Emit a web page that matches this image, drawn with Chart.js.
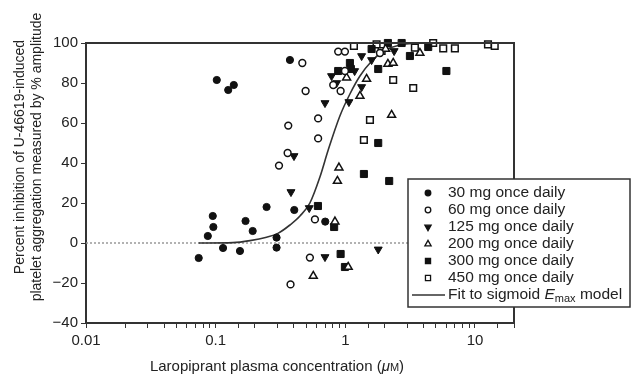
<!DOCTYPE html>
<html>
<head>
<meta charset="utf-8">
<script src="https://cdn.jsdelivr.net/npm/chart.js@4.4.1/dist/chart.umd.min.js"></script>
<style>
  html, body { margin: 0; padding: 0; background: #fff; }
</style>
</head>
<body>
<canvas id="inhibitionChart" width="631" height="375"></canvas>
<script>
// concentration (uM), % inhibition
const mg30 = [[0.074, -7.5], [0.087, 3.5], [0.095, 13.5], [0.096, 8], [0.102, 81.5], [0.114, -2.5],
  [0.125, 76.5], [0.138, 79], [0.154, -4], [0.17, 11], [0.193, 6], [0.247, 18], [0.295, 2.7],
  [0.295, -2.3], [0.374, 91.5], [0.404, 16.5], [0.70, 10.7]];
const mg60 = [[0.308, 38.7], [0.359, 45], [0.363, 58.7], [0.378, -20.7], [0.466, 90], [0.494, 76],
  [0.533, -7.3], [0.583, 11.8], [0.617, 62.3], [0.617, 52.3], [0.807, 79], [0.881, 95.7],
  [0.92, 76], [0.993, 95.7], [0.993, 86], [1.85, 95]];
const mg125 = [[0.381, 25.5], [0.402, 43.5], [0.527, 17.5], [0.697, -7], [0.697, 70], [0.783, 83.5],
  [0.857, 80], [1.066, 70.5], [1.18, 86], [1.336, 78], [1.336, 93.5], [1.595, 91.5], [1.794, -3.2],
  [2.38, 96]];
const mg200 = [[0.566, -16.5], [0.832, 10.7], [0.869, 31], [0.893, 37.7], [1.023, 82.7], [1.052, -12],
  [1.297, 73.5], [1.459, 82], [2.046, 97], [2.13, 89.5], [2.275, 64], [2.34, 90], [3.76, 95]];
const mg300 = [[0.615, 18.5], [0.82, 8], [0.881, 86], [0.92, -5.5], [0.993, -12], [1.085, 90],
  [1.104, 87], [1.391, 34.5], [1.595, 97], [1.794, 50], [1.794, 87], [2.13, 100], [2.18, 31],
  [2.72, 100], [3.15, 93.5], [4.36, 98], [6.02, 86]];
const mg450 = [[1.165, 98.5], [1.391, 51.5], [1.549, 61.5], [1.742, 99.3], [1.905, 96], [2.34, 81.5],
  [3.34, 77.5], [3.44, 97.7], [4.76, 100], [5.69, 97.3], [7.0, 97.3], [12.6, 99.3], [14.2, 98.5]];

// sigmoid Emax fit
const fitConc = [0.074, 0.136, 0.184, 0.247, 0.302, 0.374, 0.447, 0.533, 0.637, 0.738, 0.908,
  1.085, 1.297, 1.6, 1.98, 2.64, 4.49, 9.1];
const fitInh = [0, 0.2, 1.2, 2.9, 4.8, 9, 13.5, 20, 33, 46.5, 63.5, 74.5, 83.5, 91, 96, 99, 100, 100];

const doseLabels = ['30 mg once daily', '60 mg once daily', '125 mg once daily',
  '200 mg once daily', '300 mg once daily', '450 mg once daily'];
const xTickLabels = { '-2': '0.01', '-1': '0.1', '0': '1', '1': '10' };
const yTicks = [-40, -20, 0, 20, 40, 60, 80, 100];
const yTitle = ['Percent inhibition of U-46619-induced', 'platelet aggregation measured by % amplitude'];

const FONT = '"Liberation Sans", Arial, Helvetica, sans-serif';
const INK = '#222';

const toXY = arr => arr.map(p => ({ x: p[0], y: p[1] }));

// marker styles: [pointStyle, rotation, filled, radius]
const markers = [
  ['circle', 0, true, 3.6],
  ['circle', 0, false, 3.4],
  ['triangle', 180, true, 4.6],
  ['triangle', 0, false, 4.6],
  ['rect', 0, true, 5],
  ['rect', 0, false, 4.7]
];
const doseData = [mg30, mg60, mg125, mg200, mg300, mg450];

const pointSets = doseData.map((d, i) => ({
  label: doseLabels[i],
  data: toXY(d),
  pointStyle: markers[i][0],
  rotation: markers[i][1],
  pointRadius: markers[i][3],
  backgroundColor: markers[i][2] ? '#111' : '#fff',
  borderColor: '#111',
  borderWidth: markers[i][2] ? 1 : 1.5,
  clip: false,
  order: 1
}));

function drawMarker(ctx, i, x, y, r) {
  const [style, rot, filled] = markers[i];
  ctx.beginPath();
  if (style === 'circle') {
    ctx.arc(x, y, r, 0, Math.PI * 2);
  } else if (style === 'rect') {
    const s = r * Math.SQRT1_2;
    ctx.rect(x - s, y - s, 2 * s, 2 * s);
  } else {
    const d = rot ? -1 : 1;
    ctx.moveTo(x, y - d * r);
    ctx.lineTo(x + r * 0.866, y + d * r * 0.5);
    ctx.lineTo(x - r * 0.866, y + d * r * 0.5);
    ctx.closePath();
  }
  ctx.fillStyle = filled ? '#111' : '#fff';
  ctx.fill();
  ctx.lineWidth = 1.3;
  ctx.strokeStyle = '#111';
  ctx.stroke();
}

const decorPlugin = {
  id: 'decor',
  afterDraw(chart) {
    const ctx = chart.ctx;
    const a = chart.chartArea;
    ctx.save();

    // top and right frame
    ctx.strokeStyle = '#333';
    ctx.lineWidth = 2;
    ctx.beginPath();
    ctx.moveTo(a.left, a.top);
    ctx.lineTo(a.right, a.top);
    ctx.lineTo(a.right, a.bottom);
    ctx.stroke();

    // legend box
    const bx = 408, by = 179, bw = 222, bh = 128;
    ctx.fillStyle = '#fff';
    ctx.fillRect(bx, by, bw, bh);
    ctx.lineWidth = 1.5;
    ctx.strokeStyle = '#333';
    ctx.strokeRect(bx, by, bw, bh);

    ctx.font = '15.5px ' + FONT;
    ctx.textBaseline = 'middle';
    ctx.textAlign = 'left';
    doseLabels.forEach((lab, i) => {
      const y = 193 + i * 17;
      drawMarker(ctx, i, 428, y, markers[i][0] === 'circle' ? 2.8 : 3.6);
      ctx.fillStyle = INK;
      ctx.fillText(lab, 448, y);
    });
    const fy = 295;
    ctx.strokeStyle = '#333';
    ctx.lineWidth = 1.5;
    ctx.beginPath();
    ctx.moveTo(412, fy);
    ctx.lineTo(445, fy);
    ctx.stroke();
    ctx.fillStyle = INK;
    let tx = 448;
    ctx.fillText('Fit to sigmoid ', tx, fy);
    tx += ctx.measureText('Fit to sigmoid ').width;
    ctx.font = 'italic 15.5px ' + FONT;
    ctx.fillText('E', tx, fy);
    tx += ctx.measureText('E').width;
    ctx.font = '11px ' + FONT;
    ctx.fillText('max', tx, fy + 4);
    tx += ctx.measureText('max').width;
    ctx.font = '15.5px ' + FONT;
    ctx.fillText(' model', tx, fy);

    // y title
    ctx.save();
    ctx.translate(20, 157);
    ctx.rotate(-Math.PI / 2);
    ctx.textAlign = 'center';
    ctx.font = '14px ' + FONT;
    ctx.fillText(yTitle[0], 0, 0);
    ctx.fillText(yTitle[1], 0, 17);
    ctx.restore();

    // x title
    const parts = [
      ['Laropiprant plasma concentration (', '15px ' + FONT],
      ['\u03BC', 'italic 15px ' + FONT],
      ['M', '11px ' + FONT],
      [')', '15px ' + FONT]
    ];
    let total = 0;
    parts.forEach(p => { ctx.font = p[1]; total += ctx.measureText(p[0]).width; });
    let px = 277 - total / 2;
    ctx.textAlign = 'left';
    ctx.textBaseline = 'alphabetic';
    parts.forEach(p => {
      ctx.font = p[1];
      ctx.fillText(p[0], px, 371);
      px += ctx.measureText(p[0]).width;
    });
    ctx.restore();
  }
};

const ctx = document.getElementById('inhibitionChart').getContext('2d');

const inhibitionChart = new Chart(ctx, {
  type: 'scatter',
  data: {
    datasets: [
      {
        label: 'zero',
        data: [{ x: 0.01, y: 0 }, { x: 20, y: 0 }],
        showLine: true,
        borderColor: '#999',
        borderWidth: 1.5,
        borderDash: [2, 2],
        pointRadius: 0,
        order: 3
      },
      {
        label: 'Fit to sigmoid Emax model',
        data: fitConc.map((c, i) => ({ x: c, y: fitInh[i] })),
        showLine: true,
        borderColor: '#333',
        borderWidth: 1.6,
        pointRadius: 0,
        cubicInterpolationMode: 'monotone',
        order: 2
      },
      ...pointSets
    ]
  },
  options: {
    responsive: false,
    animation: false,
    layout: { padding: { left: 0, top: 43, right: 117, bottom: 0 } },
    scales: {
      x: {
        type: 'logarithmic',
        min: 0.01,
        max: 20,
        afterFit: s => { s.height = 52; },
        border: { color: '#333', width: 2 },
        grid: { drawOnChartArea: false, drawTicks: true, tickLength: 5, color: '#333' },
        ticks: {
          autoSkip: false,
          maxRotation: 0,
          padding: 4,
          color: INK,
          font: { family: FONT, size: 15 },
          callback: function(value) {
            const l = Math.log10(value);
            const r = Math.round(l);
            return Math.abs(l - r) < 1e-6 && xTickLabels[r] ? xTickLabels[r] : '';
          }
        }
      },
      y: {
        min: -40,
        max: 100,
        afterFit: s => { s.width = 86; },
        afterBuildTicks: s => { s.ticks = yTicks.map(v => ({ value: v })); },
        border: { color: '#333', width: 2 },
        grid: { drawOnChartArea: false, drawTicks: true, tickLength: 5, color: '#333' },
        ticks: {
          padding: 3,
          color: INK,
          font: { family: FONT, size: 15 },
          callback: function(value) {
            return String(value).replace('-', '\u2212');
          }
        }
      }
    },
    plugins: {
      legend: { display: false },
      tooltip: { enabled: false }
    }
  },
  plugins: [decorPlugin]
});
</script>
</body>
</html>
